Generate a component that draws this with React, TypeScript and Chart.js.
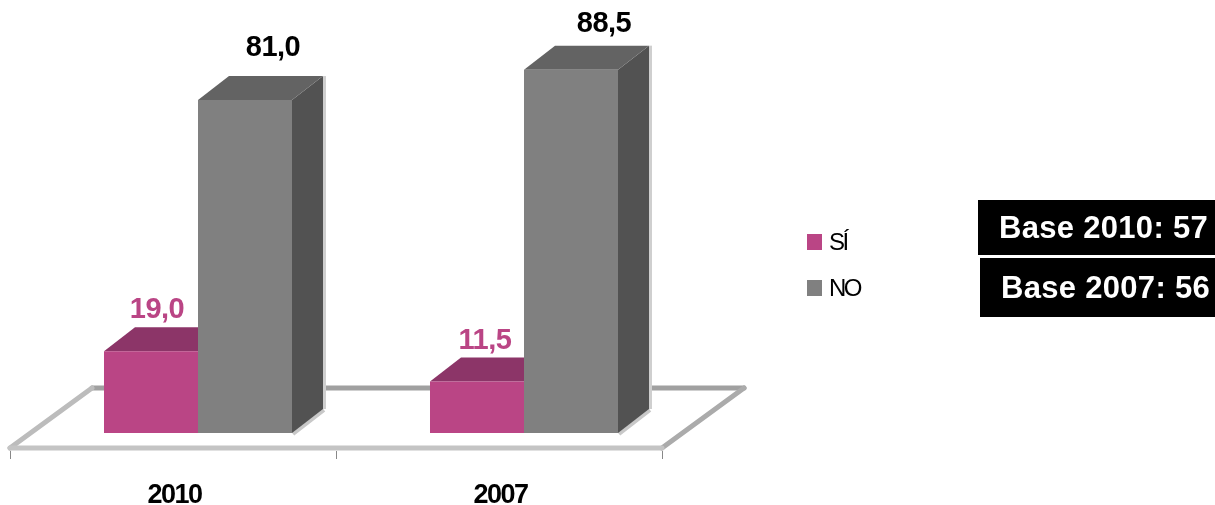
import React, { useEffect, useRef } from "react";
import { Chart, registerables } from "chart.js";

Chart.register(...registerables);

const categories = ["2010", "2007"];
const siValues = [19.0, 11.5];
const noValues = [81.0, 88.5];
const seriesNames = ["SÍ", "NO"];
const baseNotes = ["Base 2010: 57", "Base 2007: 56"];

const FONT = '"Liberation Sans", Arial, sans-serif';
const PINK = "#BA4585";
const GREY = "#808080";
const DEPTH_X = 31;
const DEPTH_Y = 24;
const AXIS_SHIFT = 25;
const SOFTEN = "blur(0.55px)";

const faceColours = [
  { top: "#8C3568", side: "#7A2E5A" },
  { top: "#636363", side: "#525252" },
];
const labelOffsets = [
  [{ x: 6, y: -41 }, { x: 8, y: -41 }],
  [{ x: 28, y: -52 }, { x: 33, y: -46 }],
];

function poly(ctx: CanvasRenderingContext2D, pts: number[][], fill: string) {
  ctx.beginPath();
  pts.forEach(([x, y], i) => (i ? ctx.lineTo(x, y) : ctx.moveTo(x, y)));
  ctx.closePath();
  ctx.fillStyle = fill;
  ctx.fill();
}

const spacingPlugin = {
  id: "spacing",
  beforeDraw(chart: any) {
    (chart.ctx as any).letterSpacing = "-1.5px";
  },
};

const solidPlugin = {
  id: "solid",
  beforeDatasetsDraw(chart: any) {
    const ctx: CanvasRenderingContext2D = chart.ctx;
    const x = chart.scales.x;
    const area = chart.chartArea;
    const band = x.getPixelForTick(1) - x.getPixelForTick(0);
    const left = x.getPixelForTick(0) - band / 2 - AXIS_SHIFT;
    const right = x.getPixelForTick(1) + band / 2 - AXIS_SHIFT;
    const frontY = area.bottom + 15;
    const backY = frontY - 60;
    const backDx = 82;

    ctx.save();
    ctx.lineCap = "round";
    ctx.lineWidth = 5;
    const line = (a: number[], b: number[], c: string) => {
      ctx.strokeStyle = c;
      ctx.beginPath();
      ctx.moveTo(a[0], a[1]);
      ctx.lineTo(b[0], b[1]);
      ctx.stroke();
    };
    line([left + backDx, backY], [right + backDx, backY], "#A0A0A0");
    line([left, frontY], [left + backDx, backY], "#BCBCBC");
    line([right, frontY], [right + backDx, backY], "#ABABAB");
    line([left, frontY], [right, frontY], "#C4C4C4");

    ctx.lineWidth = 1;
    ctx.lineCap = "butt";
    [left, left + band, right].forEach((t) =>
      line([Math.round(t) + 0.5, frontY + 3], [Math.round(t) + 0.5, frontY + 11], "#888888")
    );

    chart.data.datasets.forEach((_: any, d: number) => {
      chart.getDatasetMeta(d).data.forEach((bar: any) => {
        const hw = bar.width / 2;
        const l = bar.x - hw;
        const r = bar.x + hw;
        const top = bar.y;
        const bottom = bar.base;
        if (d === 1) {
          ctx.lineWidth = 4;
          line([r + 1, bottom + 1], [r + DEPTH_X + 1, bottom - DEPTH_Y + 1], "#C8C8C8");
          ctx.fillStyle = "#CFCFCF";
          ctx.fillRect(r + DEPTH_X, top - DEPTH_Y, 3, bottom - top);
        }
        poly(ctx, [[r, top], [r + DEPTH_X, top - DEPTH_Y], [r + DEPTH_X, bottom - DEPTH_Y], [r, bottom]], faceColours[d].side);
        poly(ctx, [[l, top], [l + DEPTH_X, top - DEPTH_Y], [r + DEPTH_X, top - DEPTH_Y], [r, top]], faceColours[d].top);
      });
    });
    ctx.restore();
  },
  afterDatasetsDraw(chart: any) {
    const ctx: CanvasRenderingContext2D = chart.ctx;
    ctx.save();
    ctx.textAlign = "center";
    ctx.textBaseline = "middle";
    ctx.font = `bold 29px ${FONT}`;
    (ctx as any).letterSpacing = "-0.5px";
    chart.data.datasets.forEach((ds: any, d: number) => {
      chart.getDatasetMeta(d).data.forEach((bar: any, i: number) => {
        ctx.fillStyle = d === 0 ? PINK : "#000000";
        ctx.fillText(
          ds.data[i].toFixed(1).replace(".", ","),
          bar.x + labelOffsets[d][i].x,
          bar.y + labelOffsets[d][i].y
        );
      });
    });

    ctx.textAlign = "left";
    ctx.font = `24px ${FONT}`;
    (ctx as any).letterSpacing = "-2.5px";
    chart.data.datasets.forEach((ds: any, d: number) => {
      const cy = 242 + d * 46;
      ctx.fillStyle = ds.backgroundColor;
      ctx.fillRect(807, cy - 8, 15, 16);
      ctx.fillStyle = "#000000";
      ctx.fillText(ds.label, 829, cy + 1);
    });
    ctx.restore();
  },
};

export default function App() {
  const ref = useRef<HTMLCanvasElement>(null);

  useEffect(() => {
    const chart = new Chart(ref.current!, {
      type: "bar",
      data: {
        labels: categories,
        datasets: [
          { label: seriesNames[0], data: siValues, backgroundColor: PINK, base: -1.2 } as any,
          { label: seriesNames[1], data: noValues, backgroundColor: GREY, base: -1.2 } as any,
        ],
      },
      options: {
        responsive: false,
        animation: false,
        layout: { padding: { left: 35, right: 528, top: 0, bottom: 0 } },
        categoryPercentage: 0.5767,
        barPercentage: 1,
        plugins: { legend: { display: false }, tooltip: { enabled: false } },
        scales: {
          x: {
            grid: { display: false, drawTicks: false },
            border: { display: false },
            afterFit(scale: any) {
              scale.height = 72;
            },
            ticks: {
              color: "#000000",
              font: { family: FONT, size: 27, weight: "bold" },
              padding: 46,
              labelOffset: -AXIS_SHIFT + 1.5,
              maxRotation: 0,
              autoSkip: false,
            },
          },
          y: { display: false, min: -1.2, max: 105.7 },
        },
      } as any,
      plugins: [spacingPlugin, solidPlugin],
    });
    return () => chart.destroy();
  }, []);

  const boxes = [
    { left: 978, top: 200, height: 55, paddingLeft: 21 },
    { left: 980, top: 258, height: 59, paddingLeft: 21 },
  ];

  return (
    <div style={{ position: "absolute", left: 0, top: 0, width: 1215, height: 505, overflow: "hidden", background: "#fff" }}>
      <canvas ref={ref} width={1215} height={505} style={{ display: "block", filter: SOFTEN }} />
      {baseNotes.map((note, i) => (
        <div
          key={note}
          style={{
            position: "absolute",
            left: boxes[i].left,
            top: boxes[i].top,
            width: 1215 - boxes[i].left - boxes[i].paddingLeft,
            height: boxes[i].height,
            lineHeight: `${boxes[i].height}px`,
            paddingLeft: boxes[i].paddingLeft,
            background: "#000",
            color: "#fff",
            fontFamily: FONT,
            fontWeight: "bold",
            fontSize: 31,
            letterSpacing: 0.3,
            whiteSpace: "nowrap",
            filter: SOFTEN,
          }}
        >
          {note}
        </div>
      ))}
    </div>
  );
}
